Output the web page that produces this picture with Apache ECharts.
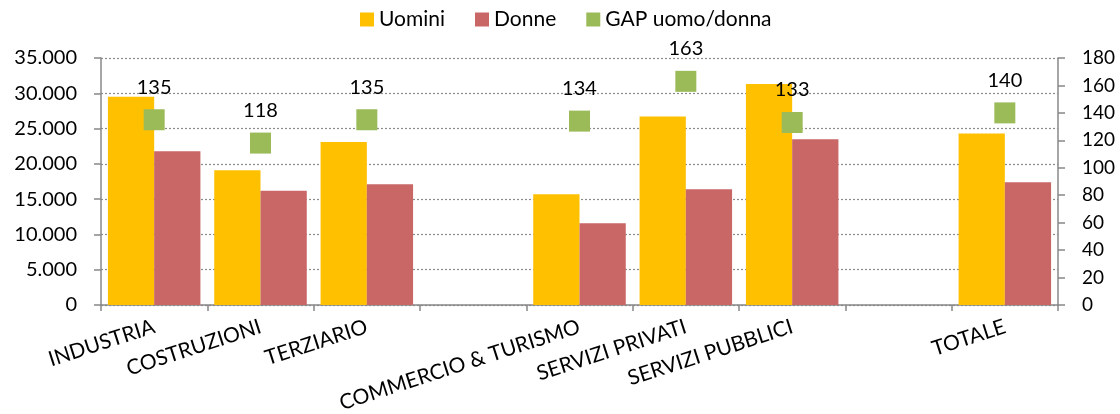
<!DOCTYPE html>
<html>
<head>
<meta charset="utf-8">
<script src="https://cdn.jsdelivr.net/npm/echarts@6/dist/echarts.min.js"></script>
<style>
html,body{margin:0;padding:0;background:#fff;}
#chart{width:1120px;height:414px;}
</style>
</head>
<body>
<div id="chart"></div>
<script>
var categories = ['INDUSTRIA', 'COSTRUZIONI', 'TERZIARIO', '', 'COMMERCIO & TURISMO', 'SERVIZI PRIVATI', 'SERVIZI PUBBLICI', '', 'TOTALE'];
var uomini = [29500, 19100, 23100, null, 15700, 26700, 31300, null, 24300];
var donne = [21800, 16200, 17100, null, 11600, 16400, 23500, null, 17400];
var gap = [135, 118, 135, null, 134, 163, 133, null, 140];
var leftTicks = {min: 0, max: 35000, interval: 5000};
var rightTicks = {min: 0, max: 180, interval: 20};

var FONT = 'Lato, "Open Sans", sans-serif';
var TXT = '#000';
var AX = '#888888';

function fmtThousands(v) {
  return String(v).replace(/\B(?=(\d{3})+(?!\d))/g, '.');
}

var chart = echarts.init(document.getElementById('chart'), null, {renderer: 'canvas'});
chart.setOption({
  animation: false,
  textStyle: {fontFamily: FONT},
  legend: {
    top: 4,
    left: 355,
    itemWidth: 14,
    itemHeight: 14,
    itemGap: 30,
    textStyle: {fontSize: 21, color: TXT, fontFamily: FONT},
    data: [
      {name: 'Uomini', icon: 'rect'},
      {name: 'Donne', icon: 'rect'},
      {name: 'GAP uomo/donna', icon: 'rect'}
    ]
  },
  grid: {left: 101, right: 62, top: 58, bottom: 109, containLabel: false, outerBoundsMode: 'none'},
  xAxis: {
    type: 'category',
    data: categories,
    axisLine: {lineStyle: {color: AX, width: 1.5}},
    axisTick: {show: true, alignWithLabel: false, length: 6, lineStyle: {color: AX, width: 1.5}},
    axisLabel: {interval: 0, rotate: 18, fontSize: 21, color: TXT, fontFamily: FONT, margin: 21}
  },
  yAxis: [
    {
      type: 'value',
      min: leftTicks.min, max: leftTicks.max, interval: leftTicks.interval,
      axisLine: {show: true, lineStyle: {color: AX, width: 1.5}},
      axisTick: {show: true, length: 7, lineStyle: {color: AX, width: 1.5}},
      axisLabel: {fontSize: 20, color: TXT, fontFamily: FONT, margin: 24, formatter: fmtThousands},
      splitLine: {show: true, lineStyle: {color: '#8c8c8c', type: [2, 2], width: 1.2}}
    },
    {
      type: 'value',
      min: rightTicks.min, max: rightTicks.max, interval: rightTicks.interval,
      axisLine: {show: true, lineStyle: {color: AX, width: 1.5}},
      axisTick: {show: true, length: 7, lineStyle: {color: AX, width: 1.5}},
      axisLabel: {fontSize: 19, color: TXT, fontFamily: FONT, margin: 24},
      splitLine: {show: false}
    }
  ],
  series: [
    {
      name: 'Uomini', type: 'bar', data: uomini, yAxisIndex: 0,
      barGap: '0%', barCategoryGap: '13%',
      itemStyle: {color: '#FFC000'}
    },
    {
      name: 'Donne', type: 'bar', data: donne, yAxisIndex: 0,
      barGap: '0%', barCategoryGap: '13%',
      itemStyle: {color: '#C96666'}
    },
    {
      name: 'GAP uomo/donna', type: 'scatter', data: gap, yAxisIndex: 1,
      symbol: 'rect', symbolSize: 21, z: 5,
      itemStyle: {color: '#9BBB59', opacity: 1},
      label: {show: true, position: 'top', distance: 12, fontSize: 20, color: TXT, fontFamily: FONT}
    }
  ]
});
</script>
</body>
</html>
